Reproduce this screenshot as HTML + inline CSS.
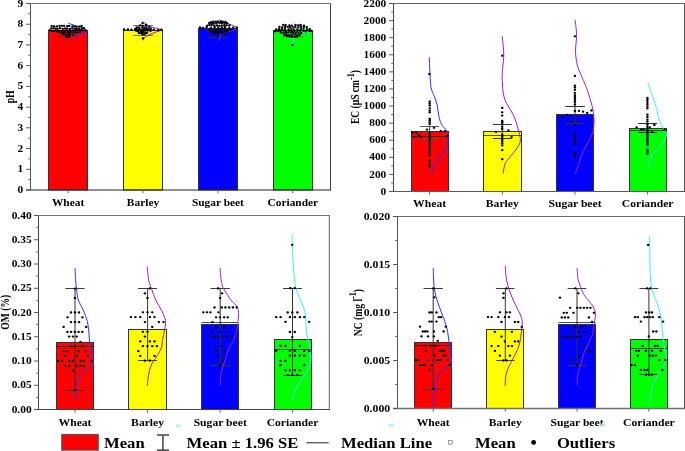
<!DOCTYPE html><html><head><meta charset="utf-8"><style>html,body{margin:0;padding:0;background:#fff;width:685px;height:451px;overflow:hidden}svg{display:block;will-change:transform}</style></head><body><svg width="685" height="451" viewBox="0 0 685 451" font-family="Liberation Serif" font-weight="bold">
<rect width="685" height="451" fill="#ffffff"/>
<rect x="48.5" y="30.5" width="39.00" height="159.50" fill="#ff0000" stroke="#333" stroke-width="1"/>
<rect x="123.5" y="30.5" width="39.00" height="159.50" fill="#ffff00" stroke="#333" stroke-width="1"/>
<rect x="198.5" y="28.5" width="39.00" height="161.50" fill="#0000ff" stroke="#333" stroke-width="1"/>
<rect x="273.5" y="30.5" width="39.00" height="159.50" fill="#00ff00" stroke="#333" stroke-width="1"/>
<line x1="58.25" y1="36.5" x2="77.85" y2="36.5" stroke="#8b1a1a" stroke-width="1"/>
<line x1="133.1" y1="25.5" x2="152.9" y2="25.5" stroke="#777777" stroke-width="1"/>
<line x1="133.1" y1="35.5" x2="152.9" y2="35.5" stroke="#777777" stroke-width="1"/>
<line x1="208.20000000000002" y1="22.5" x2="227.6" y2="22.5" stroke="#333333" stroke-width="1"/>
<line x1="208.20000000000002" y1="37.5" x2="227.6" y2="37.5" stroke="#333333" stroke-width="1"/>
<line x1="283.2" y1="36.5" x2="302.40000000000003" y2="36.5" stroke="#3a7a3a" stroke-width="1"/>
<path d="M68.00,23.00 C68.67,23.25 70.33,23.92 72.00,24.50 C73.67,25.08 76.00,25.78 78.00,26.50 C80.00,27.22 82.45,28.05 84.00,28.80 C85.55,29.55 87.63,30.22 87.30,31.00 C86.97,31.78 84.22,32.75 82.00,33.50 C79.78,34.25 76.00,34.88 74.00,35.50 C72.00,36.12 70.95,36.62 70.00,37.20 C69.05,37.78 68.58,38.70 68.30,39.00" fill="none" stroke="#3030ff" stroke-width="1"/>
<path d="M142.90,21.30 C143.42,21.75 144.82,23.13 146.00,24.00 C147.18,24.87 148.33,25.80 150.00,26.50 C151.67,27.20 154.02,27.65 156.00,28.20 C157.98,28.75 161.90,29.17 161.90,29.80 C161.90,30.43 157.98,31.22 156.00,32.00 C154.02,32.78 151.83,33.67 150.00,34.50 C148.17,35.33 146.17,36.03 145.00,37.00 C143.83,37.97 143.33,39.75 143.00,40.30" fill="none" stroke="#a020b0" stroke-width="1"/>
<path d="M219.00,20.10 C219.67,20.38 221.33,21.15 223.00,21.80 C224.67,22.45 227.17,23.30 229.00,24.00 C230.83,24.70 232.62,25.35 234.00,26.00 C235.38,26.65 237.47,27.15 237.30,27.90 C237.13,28.65 234.88,29.73 233.00,30.50 C231.12,31.27 228.00,31.83 226.00,32.50 C224.00,33.17 222.12,33.67 221.00,34.50 C219.88,35.33 219.63,36.47 219.30,37.50 C218.97,38.53 219.05,40.17 219.00,40.70" fill="none" stroke="#8a2be2" stroke-width="1"/>
<path d="M292.70,22.20 C293.25,22.58 294.62,23.78 296.00,24.50 C297.38,25.22 299.17,25.83 301.00,26.50 C302.83,27.17 305.17,27.83 307.00,28.50 C308.83,29.17 312.17,29.83 312.00,30.50 C311.83,31.17 308.33,31.92 306.00,32.50 C303.67,33.08 300.00,33.33 298.00,34.00 C296.00,34.67 294.85,35.50 294.00,36.50 C293.15,37.50 293.12,38.23 292.90,40.00 C292.68,41.77 292.73,45.92 292.70,47.10" fill="none" stroke="#40ecf4" stroke-width="1"/>
<g fill="#000">
<ellipse cx="51.65" cy="26.12" rx="1.29" ry="1.15"/>
<ellipse cx="54.07" cy="26.45" rx="1.29" ry="1.15"/>
<ellipse cx="56.87" cy="26.34" rx="1.29" ry="1.15"/>
<ellipse cx="59.51" cy="25.86" rx="1.29" ry="1.15"/>
<ellipse cx="61.93" cy="25.84" rx="1.29" ry="1.15"/>
<ellipse cx="64.09" cy="25.87" rx="1.29" ry="1.15"/>
<ellipse cx="67.33" cy="26.22" rx="1.29" ry="1.15"/>
<ellipse cx="69.22" cy="25.92" rx="1.29" ry="1.15"/>
<ellipse cx="72.45" cy="26.43" rx="1.29" ry="1.15"/>
<ellipse cx="74.4" cy="26.38" rx="1.29" ry="1.15"/>
<ellipse cx="76.55" cy="26.78" rx="1.29" ry="1.15"/>
<ellipse cx="79.29" cy="26.66" rx="1.29" ry="1.15"/>
<ellipse cx="81.62" cy="25.94" rx="1.29" ry="1.15"/>
<ellipse cx="51.32" cy="28.41" rx="1.29" ry="1.15"/>
<ellipse cx="53.44" cy="28.28" rx="1.29" ry="1.15"/>
<ellipse cx="55.59" cy="28.74" rx="1.29" ry="1.15"/>
<ellipse cx="57.63" cy="28.65" rx="1.29" ry="1.15"/>
<ellipse cx="60.13" cy="28.16" rx="1.29" ry="1.15"/>
<ellipse cx="62.71" cy="28.78" rx="1.29" ry="1.15"/>
<ellipse cx="65.23" cy="28.41" rx="1.29" ry="1.15"/>
<ellipse cx="67.3" cy="28.55" rx="1.29" ry="1.15"/>
<ellipse cx="70.06" cy="28.89" rx="1.29" ry="1.15"/>
<ellipse cx="72.29" cy="28.34" rx="1.29" ry="1.15"/>
<ellipse cx="74.95" cy="28.63" rx="1.29" ry="1.15"/>
<ellipse cx="76.72" cy="28.83" rx="1.29" ry="1.15"/>
<ellipse cx="78.9" cy="29.08" rx="1.29" ry="1.15"/>
<ellipse cx="81.9" cy="28.52" rx="1.29" ry="1.15"/>
<ellipse cx="83.99" cy="28.25" rx="1.29" ry="1.15"/>
<ellipse cx="49.67" cy="30.14" rx="1.29" ry="1.15"/>
<ellipse cx="51.94" cy="30.86" rx="1.29" ry="1.15"/>
<ellipse cx="54.05" cy="30.98" rx="1.29" ry="1.15"/>
<ellipse cx="56.69" cy="30.8" rx="1.29" ry="1.15"/>
<ellipse cx="58.92" cy="30.68" rx="1.29" ry="1.15"/>
<ellipse cx="61.78" cy="30.94" rx="1.29" ry="1.15"/>
<ellipse cx="63.86" cy="30.57" rx="1.29" ry="1.15"/>
<ellipse cx="66.27" cy="30.16" rx="1.29" ry="1.15"/>
<ellipse cx="68.93" cy="30.75" rx="1.29" ry="1.15"/>
<ellipse cx="70.58" cy="30.92" rx="1.29" ry="1.15"/>
<ellipse cx="73.34" cy="30.49" rx="1.29" ry="1.15"/>
<ellipse cx="75.5" cy="30.12" rx="1.29" ry="1.15"/>
<ellipse cx="77.52" cy="30.27" rx="1.29" ry="1.15"/>
<ellipse cx="80.53" cy="30.16" rx="1.29" ry="1.15"/>
<ellipse cx="82.38" cy="30.23" rx="1.29" ry="1.15"/>
<ellipse cx="85.37" cy="30.49" rx="1.29" ry="1.15"/>
<ellipse cx="57.95" cy="32.18" rx="1.29" ry="1.15"/>
<ellipse cx="60.83" cy="32.65" rx="1.29" ry="1.15"/>
<ellipse cx="63.25" cy="32.92" rx="1.29" ry="1.15"/>
<ellipse cx="65.25" cy="32.38" rx="1.29" ry="1.15"/>
<ellipse cx="68.16" cy="32.46" rx="1.29" ry="1.15"/>
<ellipse cx="69.87" cy="33.06" rx="1.29" ry="1.15"/>
<ellipse cx="72.4" cy="32.28" rx="1.29" ry="1.15"/>
<ellipse cx="75.1" cy="32.33" rx="1.29" ry="1.15"/>
<ellipse cx="77.32" cy="32.69" rx="1.29" ry="1.15"/>
<ellipse cx="79.92" cy="32.1" rx="1.29" ry="1.15"/>
<ellipse cx="63.07" cy="34.17" rx="1.29" ry="1.15"/>
<ellipse cx="65.69" cy="34.75" rx="1.29" ry="1.15"/>
<ellipse cx="68.12" cy="34.32" rx="1.29" ry="1.15"/>
<ellipse cx="70.05" cy="34.48" rx="1.29" ry="1.15"/>
<ellipse cx="73.28" cy="34.7" rx="1.29" ry="1.15"/>
<ellipse cx="66.3" cy="36.57" rx="1.29" ry="1.15"/>
<ellipse cx="68.9" cy="36.09" rx="1.29" ry="1.15"/>
<ellipse cx="68.13" cy="37.2" rx="1.29" ry="1.15"/>
<ellipse cx="124.07" cy="29.36" rx="1.29" ry="1.15"/>
<ellipse cx="127.86" cy="29.51" rx="1.29" ry="1.15"/>
<ellipse cx="131.45" cy="29.64" rx="1.29" ry="1.15"/>
<ellipse cx="135.25" cy="29.3" rx="1.29" ry="1.15"/>
<ellipse cx="139.16" cy="29.4" rx="1.29" ry="1.15"/>
<ellipse cx="143.37" cy="29.33" rx="1.29" ry="1.15"/>
<ellipse cx="146.35" cy="29.91" rx="1.29" ry="1.15"/>
<ellipse cx="150.25" cy="29.55" rx="1.29" ry="1.15"/>
<ellipse cx="153.72" cy="29.66" rx="1.29" ry="1.15"/>
<ellipse cx="158.29" cy="30.15" rx="1.29" ry="1.15"/>
<ellipse cx="161.48" cy="29.77" rx="1.29" ry="1.15"/>
<ellipse cx="142.6" cy="23.19" rx="1.29" ry="1.15"/>
<ellipse cx="140.26" cy="25.34" rx="1.29" ry="1.15"/>
<ellipse cx="142.66" cy="25.83" rx="1.29" ry="1.15"/>
<ellipse cx="145.95" cy="25.02" rx="1.29" ry="1.15"/>
<ellipse cx="136.65" cy="27.33" rx="1.29" ry="1.15"/>
<ellipse cx="138.93" cy="27.34" rx="1.29" ry="1.15"/>
<ellipse cx="142.28" cy="27.33" rx="1.29" ry="1.15"/>
<ellipse cx="144.4" cy="27.66" rx="1.29" ry="1.15"/>
<ellipse cx="146.47" cy="27.06" rx="1.29" ry="1.15"/>
<ellipse cx="149.27" cy="26.97" rx="1.29" ry="1.15"/>
<ellipse cx="135.28" cy="29.23" rx="1.29" ry="1.15"/>
<ellipse cx="137.01" cy="29.03" rx="1.29" ry="1.15"/>
<ellipse cx="140.06" cy="29.51" rx="1.29" ry="1.15"/>
<ellipse cx="142.16" cy="29.55" rx="1.29" ry="1.15"/>
<ellipse cx="144.38" cy="29.52" rx="1.29" ry="1.15"/>
<ellipse cx="146.45" cy="28.93" rx="1.29" ry="1.15"/>
<ellipse cx="148.24" cy="29.06" rx="1.29" ry="1.15"/>
<ellipse cx="150.78" cy="28.73" rx="1.29" ry="1.15"/>
<ellipse cx="136.19" cy="30.76" rx="1.29" ry="1.15"/>
<ellipse cx="138.28" cy="31.46" rx="1.29" ry="1.15"/>
<ellipse cx="141.15" cy="31.44" rx="1.29" ry="1.15"/>
<ellipse cx="142.86" cy="31.46" rx="1.29" ry="1.15"/>
<ellipse cx="145.06" cy="30.72" rx="1.29" ry="1.15"/>
<ellipse cx="147.37" cy="30.7" rx="1.29" ry="1.15"/>
<ellipse cx="150.4" cy="31.12" rx="1.29" ry="1.15"/>
<ellipse cx="138.98" cy="33.14" rx="1.29" ry="1.15"/>
<ellipse cx="141.3" cy="32.95" rx="1.29" ry="1.15"/>
<ellipse cx="143.16" cy="32.38" rx="1.29" ry="1.15"/>
<ellipse cx="145.28" cy="33.21" rx="1.29" ry="1.15"/>
<ellipse cx="146.98" cy="33.05" rx="1.29" ry="1.15"/>
<ellipse cx="142.29" cy="34.28" rx="1.29" ry="1.15"/>
<ellipse cx="144.3" cy="34.43" rx="1.29" ry="1.15"/>
<ellipse cx="142.9" cy="38.47" rx="1.29" ry="1.15"/>
<ellipse cx="199.95" cy="27.5" rx="1.29" ry="1.15"/>
<ellipse cx="202.87" cy="27.82" rx="1.29" ry="1.15"/>
<ellipse cx="206.55" cy="27.23" rx="1.29" ry="1.15"/>
<ellipse cx="210.91" cy="28.0" rx="1.29" ry="1.15"/>
<ellipse cx="214.63" cy="27.25" rx="1.29" ry="1.15"/>
<ellipse cx="218.16" cy="28.08" rx="1.29" ry="1.15"/>
<ellipse cx="221.75" cy="27.45" rx="1.29" ry="1.15"/>
<ellipse cx="224.91" cy="27.23" rx="1.29" ry="1.15"/>
<ellipse cx="229.25" cy="28.07" rx="1.29" ry="1.15"/>
<ellipse cx="233.23" cy="27.63" rx="1.29" ry="1.15"/>
<ellipse cx="236.87" cy="27.53" rx="1.29" ry="1.15"/>
<ellipse cx="210.71" cy="22.13" rx="1.29" ry="1.15"/>
<ellipse cx="213.13" cy="21.55" rx="1.29" ry="1.15"/>
<ellipse cx="215.75" cy="21.54" rx="1.29" ry="1.15"/>
<ellipse cx="217.92" cy="21.56" rx="1.29" ry="1.15"/>
<ellipse cx="220.74" cy="21.43" rx="1.29" ry="1.15"/>
<ellipse cx="222.62" cy="21.65" rx="1.29" ry="1.15"/>
<ellipse cx="225.4" cy="21.88" rx="1.29" ry="1.15"/>
<ellipse cx="209.42" cy="23.52" rx="1.29" ry="1.15"/>
<ellipse cx="211.6" cy="23.6" rx="1.29" ry="1.15"/>
<ellipse cx="213.66" cy="23.62" rx="1.29" ry="1.15"/>
<ellipse cx="216.4" cy="23.54" rx="1.29" ry="1.15"/>
<ellipse cx="219.58" cy="23.1" rx="1.29" ry="1.15"/>
<ellipse cx="221.83" cy="23.27" rx="1.29" ry="1.15"/>
<ellipse cx="224.49" cy="23.83" rx="1.29" ry="1.15"/>
<ellipse cx="227.02" cy="23.43" rx="1.29" ry="1.15"/>
<ellipse cx="207.28" cy="25.56" rx="1.29" ry="1.15"/>
<ellipse cx="209.5" cy="25.11" rx="1.29" ry="1.15"/>
<ellipse cx="211.67" cy="25.25" rx="1.29" ry="1.15"/>
<ellipse cx="214.34" cy="25.77" rx="1.29" ry="1.15"/>
<ellipse cx="217.04" cy="25.56" rx="1.29" ry="1.15"/>
<ellipse cx="219.17" cy="25.91" rx="1.29" ry="1.15"/>
<ellipse cx="221.67" cy="25.61" rx="1.29" ry="1.15"/>
<ellipse cx="224.3" cy="25.51" rx="1.29" ry="1.15"/>
<ellipse cx="226.59" cy="25.45" rx="1.29" ry="1.15"/>
<ellipse cx="229.44" cy="25.48" rx="1.29" ry="1.15"/>
<ellipse cx="209.38" cy="30.0" rx="1.29" ry="1.15"/>
<ellipse cx="211.32" cy="30.24" rx="1.29" ry="1.15"/>
<ellipse cx="214.55" cy="29.86" rx="1.29" ry="1.15"/>
<ellipse cx="216.3" cy="30.14" rx="1.29" ry="1.15"/>
<ellipse cx="219.16" cy="29.42" rx="1.29" ry="1.15"/>
<ellipse cx="221.52" cy="29.37" rx="1.29" ry="1.15"/>
<ellipse cx="224.5" cy="29.37" rx="1.29" ry="1.15"/>
<ellipse cx="227.29" cy="30.08" rx="1.29" ry="1.15"/>
<ellipse cx="229.66" cy="29.45" rx="1.29" ry="1.15"/>
<ellipse cx="231.64" cy="29.96" rx="1.29" ry="1.15"/>
<ellipse cx="210.47" cy="32.18" rx="1.29" ry="1.15"/>
<ellipse cx="213.02" cy="31.52" rx="1.29" ry="1.15"/>
<ellipse cx="215.13" cy="31.7" rx="1.29" ry="1.15"/>
<ellipse cx="218.05" cy="32.29" rx="1.29" ry="1.15"/>
<ellipse cx="220.22" cy="31.46" rx="1.29" ry="1.15"/>
<ellipse cx="222.7" cy="31.82" rx="1.29" ry="1.15"/>
<ellipse cx="225.25" cy="31.5" rx="1.29" ry="1.15"/>
<ellipse cx="227.52" cy="32.02" rx="1.29" ry="1.15"/>
<ellipse cx="213.94" cy="33.65" rx="1.29" ry="1.15"/>
<ellipse cx="216.33" cy="33.12" rx="1.29" ry="1.15"/>
<ellipse cx="219.01" cy="33.72" rx="1.29" ry="1.15"/>
<ellipse cx="221.99" cy="33.16" rx="1.29" ry="1.15"/>
<ellipse cx="224.47" cy="33.89" rx="1.29" ry="1.15"/>
<ellipse cx="217.77" cy="36.9" rx="1.29" ry="1.15"/>
<ellipse cx="283.28" cy="24.94" rx="1.29" ry="1.15"/>
<ellipse cx="285.63" cy="25.17" rx="1.29" ry="1.15"/>
<ellipse cx="289.41" cy="25.32" rx="1.29" ry="1.15"/>
<ellipse cx="291.76" cy="25.72" rx="1.29" ry="1.15"/>
<ellipse cx="295.42" cy="25.05" rx="1.29" ry="1.15"/>
<ellipse cx="298.2" cy="25.47" rx="1.29" ry="1.15"/>
<ellipse cx="300.56" cy="24.99" rx="1.29" ry="1.15"/>
<ellipse cx="303.93" cy="25.59" rx="1.29" ry="1.15"/>
<ellipse cx="279.44" cy="26.87" rx="1.29" ry="1.15"/>
<ellipse cx="282.1" cy="27.43" rx="1.29" ry="1.15"/>
<ellipse cx="284.96" cy="26.88" rx="1.29" ry="1.15"/>
<ellipse cx="287.76" cy="26.87" rx="1.29" ry="1.15"/>
<ellipse cx="290.04" cy="27.25" rx="1.29" ry="1.15"/>
<ellipse cx="293.43" cy="27.35" rx="1.29" ry="1.15"/>
<ellipse cx="295.43" cy="27.07" rx="1.29" ry="1.15"/>
<ellipse cx="298.34" cy="27.33" rx="1.29" ry="1.15"/>
<ellipse cx="301.06" cy="26.91" rx="1.29" ry="1.15"/>
<ellipse cx="303.9" cy="26.85" rx="1.29" ry="1.15"/>
<ellipse cx="306.81" cy="27.11" rx="1.29" ry="1.15"/>
<ellipse cx="276.29" cy="29.46" rx="1.29" ry="1.15"/>
<ellipse cx="279.18" cy="29.2" rx="1.29" ry="1.15"/>
<ellipse cx="282.02" cy="29.05" rx="1.29" ry="1.15"/>
<ellipse cx="285.02" cy="28.95" rx="1.29" ry="1.15"/>
<ellipse cx="288.55" cy="29.43" rx="1.29" ry="1.15"/>
<ellipse cx="291.47" cy="28.89" rx="1.29" ry="1.15"/>
<ellipse cx="294.11" cy="29.63" rx="1.29" ry="1.15"/>
<ellipse cx="297.43" cy="29.52" rx="1.29" ry="1.15"/>
<ellipse cx="300.83" cy="29.2" rx="1.29" ry="1.15"/>
<ellipse cx="303.51" cy="29.09" rx="1.29" ry="1.15"/>
<ellipse cx="306.98" cy="29.39" rx="1.29" ry="1.15"/>
<ellipse cx="309.83" cy="29.04" rx="1.29" ry="1.15"/>
<ellipse cx="275.14" cy="31.31" rx="1.29" ry="1.15"/>
<ellipse cx="277.66" cy="31.0" rx="1.29" ry="1.15"/>
<ellipse cx="280.25" cy="30.65" rx="1.29" ry="1.15"/>
<ellipse cx="283.66" cy="30.67" rx="1.29" ry="1.15"/>
<ellipse cx="285.89" cy="30.86" rx="1.29" ry="1.15"/>
<ellipse cx="289.38" cy="30.68" rx="1.29" ry="1.15"/>
<ellipse cx="292.02" cy="31.47" rx="1.29" ry="1.15"/>
<ellipse cx="294.4" cy="30.88" rx="1.29" ry="1.15"/>
<ellipse cx="297.42" cy="30.89" rx="1.29" ry="1.15"/>
<ellipse cx="300.22" cy="30.76" rx="1.29" ry="1.15"/>
<ellipse cx="303.54" cy="30.86" rx="1.29" ry="1.15"/>
<ellipse cx="305.93" cy="31.57" rx="1.29" ry="1.15"/>
<ellipse cx="309.16" cy="30.84" rx="1.29" ry="1.15"/>
<ellipse cx="311.36" cy="30.91" rx="1.29" ry="1.15"/>
<ellipse cx="280.88" cy="32.5" rx="1.29" ry="1.15"/>
<ellipse cx="283.5" cy="32.97" rx="1.29" ry="1.15"/>
<ellipse cx="286.0" cy="32.7" rx="1.29" ry="1.15"/>
<ellipse cx="288.26" cy="32.5" rx="1.29" ry="1.15"/>
<ellipse cx="290.9" cy="32.59" rx="1.29" ry="1.15"/>
<ellipse cx="293.02" cy="32.54" rx="1.29" ry="1.15"/>
<ellipse cx="295.73" cy="32.8" rx="1.29" ry="1.15"/>
<ellipse cx="298.53" cy="33.09" rx="1.29" ry="1.15"/>
<ellipse cx="301.16" cy="33.25" rx="1.29" ry="1.15"/>
<ellipse cx="284.38" cy="35.02" rx="1.29" ry="1.15"/>
<ellipse cx="286.33" cy="34.69" rx="1.29" ry="1.15"/>
<ellipse cx="288.65" cy="35.28" rx="1.29" ry="1.15"/>
<ellipse cx="291.64" cy="35.02" rx="1.29" ry="1.15"/>
<ellipse cx="294.34" cy="34.34" rx="1.29" ry="1.15"/>
<ellipse cx="296.63" cy="35.19" rx="1.29" ry="1.15"/>
<ellipse cx="299.31" cy="35.03" rx="1.29" ry="1.15"/>
<ellipse cx="287.02" cy="36.24" rx="1.29" ry="1.15"/>
<ellipse cx="289.83" cy="36.6" rx="1.29" ry="1.15"/>
<ellipse cx="292.33" cy="36.9" rx="1.29" ry="1.15"/>
<ellipse cx="294.89" cy="36.68" rx="1.29" ry="1.15"/>
<ellipse cx="297.19" cy="36.78" rx="1.29" ry="1.15"/>
<ellipse cx="292.23" cy="45.03" rx="1.29" ry="1.15"/>
</g>
<line x1="30.5" y1="3.5" x2="30.5" y2="190" stroke="#555" stroke-width="1"/>
<line x1="330.5" y1="3.5" x2="330.5" y2="190" stroke="#444" stroke-width="1"/>
<line x1="26.2" y1="3.5" x2="331.0" y2="3.5" stroke="#777" stroke-width="1.2"/>
<line x1="26.2" y1="190" x2="331.0" y2="190" stroke="#222" stroke-width="1"/>
<line x1="26.2" y1="190.0" x2="30.5" y2="190.0" stroke="#555" stroke-width="1"/>
<text transform="translate(23.3,193.1) scale(1.14,1)" font-size="10" text-anchor="end">0</text>
<line x1="26.2" y1="169.27777777777777" x2="30.5" y2="169.27777777777777" stroke="#555" stroke-width="1"/>
<text transform="translate(23.3,172.37777777777777) scale(1.14,1)" font-size="10" text-anchor="end">1</text>
<line x1="26.2" y1="148.55555555555554" x2="30.5" y2="148.55555555555554" stroke="#555" stroke-width="1"/>
<text transform="translate(23.3,151.65555555555554) scale(1.14,1)" font-size="10" text-anchor="end">2</text>
<line x1="26.2" y1="127.83333333333334" x2="30.5" y2="127.83333333333334" stroke="#555" stroke-width="1"/>
<text transform="translate(23.3,130.93333333333334) scale(1.14,1)" font-size="10" text-anchor="end">3</text>
<line x1="26.2" y1="107.11111111111111" x2="30.5" y2="107.11111111111111" stroke="#555" stroke-width="1"/>
<text transform="translate(23.3,110.21111111111111) scale(1.14,1)" font-size="10" text-anchor="end">4</text>
<line x1="26.2" y1="86.38888888888889" x2="30.5" y2="86.38888888888889" stroke="#555" stroke-width="1"/>
<text transform="translate(23.3,89.48888888888888) scale(1.14,1)" font-size="10" text-anchor="end">5</text>
<line x1="26.2" y1="65.66666666666667" x2="30.5" y2="65.66666666666667" stroke="#555" stroke-width="1"/>
<text transform="translate(23.3,68.76666666666667) scale(1.14,1)" font-size="10" text-anchor="end">6</text>
<line x1="26.2" y1="44.94444444444446" x2="30.5" y2="44.94444444444446" stroke="#555" stroke-width="1"/>
<text transform="translate(23.3,48.04444444444446) scale(1.14,1)" font-size="10" text-anchor="end">7</text>
<line x1="26.2" y1="24.22222222222223" x2="30.5" y2="24.22222222222223" stroke="#555" stroke-width="1"/>
<text transform="translate(23.3,27.32222222222223) scale(1.14,1)" font-size="10" text-anchor="end">8</text>
<line x1="26.2" y1="3.5" x2="30.5" y2="3.5" stroke="#555" stroke-width="1"/>
<text transform="translate(23.3,6.6) scale(1.14,1)" font-size="10" text-anchor="end">9</text>
<line x1="28.2" y1="179.63888888888889" x2="30.5" y2="179.63888888888889" stroke="#666" stroke-width="1"/>
<line x1="28.2" y1="158.91666666666666" x2="30.5" y2="158.91666666666666" stroke="#666" stroke-width="1"/>
<line x1="28.2" y1="138.19444444444446" x2="30.5" y2="138.19444444444446" stroke="#666" stroke-width="1"/>
<line x1="28.2" y1="117.47222222222223" x2="30.5" y2="117.47222222222223" stroke="#666" stroke-width="1"/>
<line x1="28.2" y1="96.75" x2="30.5" y2="96.75" stroke="#666" stroke-width="1"/>
<line x1="28.2" y1="76.02777777777777" x2="30.5" y2="76.02777777777777" stroke="#666" stroke-width="1"/>
<line x1="28.2" y1="55.30555555555554" x2="30.5" y2="55.30555555555554" stroke="#666" stroke-width="1"/>
<line x1="28.2" y1="34.58333333333334" x2="30.5" y2="34.58333333333334" stroke="#666" stroke-width="1"/>
<line x1="28.2" y1="13.861111111111114" x2="30.5" y2="13.861111111111114" stroke="#666" stroke-width="1"/>
<line x1="68.05" y1="190" x2="68.05" y2="193.2" stroke="#666" stroke-width="1"/>
<text transform="translate(68.05,205.8) scale(1.2,1)" font-size="9.5" text-anchor="middle">Wheat</text>
<line x1="143" y1="190" x2="143" y2="193.2" stroke="#666" stroke-width="1"/>
<text transform="translate(143,205.8) scale(1.2,1)" font-size="9.5" text-anchor="middle">Barley</text>
<line x1="217.9" y1="190" x2="217.9" y2="193.2" stroke="#666" stroke-width="1"/>
<text transform="translate(217.9,205.8) scale(1.2,1)" font-size="9.5" text-anchor="middle">Sugar beet</text>
<line x1="292.8" y1="190" x2="292.8" y2="193.2" stroke="#666" stroke-width="1"/>
<text transform="translate(292.8,205.8) scale(1.2,1)" font-size="9.5" text-anchor="middle">Coriander</text>
<rect x="411.5" y="131.5" width="37.00" height="60.00" fill="#ff0000" stroke="#333" stroke-width="1"/>
<rect x="483.5" y="131.5" width="38.00" height="60.00" fill="#ffff00" stroke="#333" stroke-width="1"/>
<rect x="556.5" y="114.5" width="37.00" height="77.00" fill="#0000ff" stroke="#333" stroke-width="1"/>
<rect x="629.5" y="128.5" width="37.00" height="63.00" fill="#00ff00" stroke="#333" stroke-width="1"/>
<line x1="429.6" y1="126.3" x2="429.6" y2="138.2" stroke="#333" stroke-width="1"/>
<line x1="502.3" y1="124.2" x2="502.3" y2="138.2" stroke="#333" stroke-width="1"/>
<line x1="575" y1="106.5" x2="575" y2="123.2" stroke="#333" stroke-width="1"/>
<line x1="647.6" y1="123.1" x2="647.6" y2="132.3" stroke="#333" stroke-width="1"/>
<line x1="411.5" y1="136.5" x2="448.5" y2="136.5" stroke="#000" stroke-opacity="0.7" stroke-width="1"/>
<line x1="483.5" y1="135.5" x2="521.5" y2="135.5" stroke="#000" stroke-opacity="0.7" stroke-width="1"/>
<line x1="629.5" y1="130.5" x2="666.5" y2="130.5" stroke="#000" stroke-opacity="0.7" stroke-width="1"/>
<line x1="420.3" y1="126.5" x2="438.90000000000003" y2="126.5" stroke="#555" stroke-width="1"/>
<line x1="420.3" y1="138.5" x2="438.90000000000003" y2="138.5" stroke="#555" stroke-width="1"/>
<line x1="492.90000000000003" y1="124.5" x2="511.7" y2="124.5" stroke="#333" stroke-width="1"/>
<line x1="492.90000000000003" y1="138.5" x2="511.7" y2="138.5" stroke="#333" stroke-width="1"/>
<line x1="565.2" y1="106.5" x2="584.8" y2="106.5" stroke="#333" stroke-width="1"/>
<line x1="565.2" y1="123.5" x2="584.8" y2="123.5" stroke="#333" stroke-width="1"/>
<line x1="638.1" y1="123.5" x2="657.1" y2="123.5" stroke="#333" stroke-width="1"/>
<line x1="638.1" y1="132.5" x2="657.1" y2="132.5" stroke="#333" stroke-width="1"/>
<path d="M429.30,57.10 C429.35,58.58 429.48,63.12 429.60,66.00 C429.72,68.88 429.75,70.77 430.00,74.40 C430.25,78.03 430.37,84.08 431.10,87.80 C431.83,91.52 433.37,93.73 434.40,96.70 C435.43,99.67 436.55,102.27 437.30,105.60 C438.05,108.93 438.08,113.37 438.90,116.70 C439.72,120.03 440.72,123.02 442.20,125.60 C443.68,128.18 446.98,129.25 447.80,132.20 C448.62,135.15 447.60,140.37 447.10,143.30 C446.60,146.23 446.15,147.35 444.80,149.80 C443.45,152.25 440.65,155.35 439.00,158.00 C437.35,160.65 436.25,163.08 434.90,165.70 C433.55,168.32 431.57,172.37 430.90,173.70" fill="none" stroke="#3030ff" stroke-width="1"/>
<path d="M502.20,36.20 C502.37,37.83 502.93,42.77 503.20,46.00 C503.47,49.23 503.83,52.43 503.80,55.60 C503.77,58.77 503.27,61.87 503.00,65.00 C502.73,68.13 502.30,71.23 502.20,74.40 C502.10,77.57 502.23,81.03 502.40,84.00 C502.57,86.97 502.77,89.53 503.20,92.20 C503.63,94.87 504.07,97.50 505.00,100.00 C505.93,102.50 507.45,104.80 508.80,107.20 C510.15,109.60 511.90,112.00 513.10,114.40 C514.30,116.80 515.17,119.18 516.00,121.60 C516.83,124.02 517.50,126.73 518.10,128.90 C518.70,131.07 519.23,132.58 519.60,134.60 C519.97,136.62 520.67,138.83 520.30,141.00 C519.93,143.17 519.20,144.82 517.40,147.60 C515.60,150.38 511.53,155.05 509.50,157.70 C507.47,160.35 506.28,160.87 505.20,163.50 C504.12,166.13 503.37,171.83 503.00,173.50" fill="none" stroke="#a020b0" stroke-width="1"/>
<path d="M575.00,20.00 C575.22,21.67 576.05,27.00 576.30,30.00 C576.55,33.00 576.62,35.00 576.50,38.00 C576.38,41.00 575.72,45.00 575.60,48.00 C575.48,51.00 575.48,53.00 575.80,56.00 C576.12,59.00 576.63,62.83 577.50,66.00 C578.37,69.17 579.83,72.17 581.00,75.00 C582.17,77.83 583.18,79.67 584.50,83.00 C585.82,86.33 587.38,89.87 588.90,95.00 C590.42,100.13 592.97,107.52 593.60,113.80 C594.23,120.08 594.43,126.42 592.70,132.70 C590.97,138.98 586.10,144.62 583.20,151.50 C580.30,158.38 576.62,170.25 575.30,174.00" fill="none" stroke="#8a2be2" stroke-width="1"/>
<path d="M647.70,82.80 C648.45,84.83 650.72,90.75 652.20,95.00 C653.68,99.25 655.50,104.25 656.60,108.30 C657.70,112.35 657.68,115.98 658.80,119.30 C659.92,122.62 662.00,125.60 663.30,128.20 C664.60,130.80 666.98,131.93 666.60,134.90 C666.22,137.87 663.40,142.68 661.00,146.00 C658.60,149.32 654.42,151.12 652.20,154.80 C649.98,158.48 648.45,165.88 647.70,168.10" fill="none" stroke="#40ecf4" stroke-width="1"/>
<g fill="#000">
<ellipse cx="429.4" cy="74.2" rx="1.29" ry="1.15"/>
<ellipse cx="429.7" cy="101.7" rx="1.29" ry="1.15"/>
<ellipse cx="429.7" cy="103.6" rx="1.29" ry="1.15"/>
<ellipse cx="429.7" cy="105.5" rx="1.29" ry="1.15"/>
<ellipse cx="429.7" cy="108.3" rx="1.29" ry="1.15"/>
<ellipse cx="429.7" cy="110.6" rx="1.29" ry="1.15"/>
<ellipse cx="429.7" cy="112.3" rx="1.29" ry="1.15"/>
<ellipse cx="429.7" cy="118.9" rx="1.29" ry="1.15"/>
<ellipse cx="429.7" cy="120.7" rx="1.29" ry="1.15"/>
<ellipse cx="429.7" cy="122.5" rx="1.29" ry="1.15"/>
<ellipse cx="429.7" cy="124.3" rx="1.29" ry="1.15"/>
<ellipse cx="429.7" cy="133.0" rx="1.29" ry="1.15"/>
<ellipse cx="429.7" cy="134.85" rx="1.29" ry="1.15"/>
<ellipse cx="429.7" cy="136.7" rx="1.29" ry="1.15"/>
<ellipse cx="429.7" cy="138.55" rx="1.29" ry="1.15"/>
<ellipse cx="429.7" cy="140.4" rx="1.29" ry="1.15"/>
<ellipse cx="429.7" cy="142.25" rx="1.29" ry="1.15"/>
<ellipse cx="429.7" cy="144.1" rx="1.29" ry="1.15"/>
<ellipse cx="429.7" cy="145.95" rx="1.29" ry="1.15"/>
<ellipse cx="429.7" cy="147.8" rx="1.29" ry="1.15"/>
<ellipse cx="429.7" cy="149.65" rx="1.29" ry="1.15"/>
<ellipse cx="429.7" cy="151.5" rx="1.29" ry="1.15"/>
<ellipse cx="429.7" cy="153.35" rx="1.29" ry="1.15"/>
<ellipse cx="429.7" cy="155.2" rx="1.29" ry="1.15"/>
<ellipse cx="429.7" cy="160.5" rx="1.29" ry="1.15"/>
<ellipse cx="429.7" cy="162.3" rx="1.29" ry="1.15"/>
<ellipse cx="429.7" cy="164.9" rx="1.29" ry="1.15"/>
<ellipse cx="429.7" cy="166.7" rx="1.29" ry="1.15"/>
<ellipse cx="434" cy="127.8" rx="1.29" ry="1.15"/>
<ellipse cx="427" cy="129.6" rx="1.29" ry="1.15"/>
<ellipse cx="440.8" cy="131.2" rx="1.29" ry="1.15"/>
<ellipse cx="444.9" cy="131.2" rx="1.29" ry="1.15"/>
<ellipse cx="412.2" cy="132.6" rx="1.29" ry="1.15"/>
<ellipse cx="416.3" cy="132.6" rx="1.29" ry="1.15"/>
<ellipse cx="418.6" cy="135" rx="1.29" ry="1.15"/>
<ellipse cx="414.1" cy="137" rx="1.29" ry="1.15"/>
<ellipse cx="420.8" cy="137" rx="1.29" ry="1.15"/>
<ellipse cx="447.2" cy="136" rx="1.29" ry="1.15"/>
<ellipse cx="502.3" cy="55.7" rx="1.29" ry="1.15"/>
<ellipse cx="502.2" cy="107.9" rx="1.29" ry="1.15"/>
<ellipse cx="502.2" cy="112.3" rx="1.29" ry="1.15"/>
<ellipse cx="502.2" cy="115.6" rx="1.29" ry="1.15"/>
<ellipse cx="502.2" cy="120.9" rx="1.29" ry="1.15"/>
<ellipse cx="502.2" cy="122.0" rx="1.29" ry="1.15"/>
<ellipse cx="502.2" cy="123.1" rx="1.29" ry="1.15"/>
<ellipse cx="502.2" cy="126.7" rx="1.29" ry="1.15"/>
<ellipse cx="502.2" cy="129.0" rx="1.29" ry="1.15"/>
<ellipse cx="502.2" cy="134.6" rx="1.29" ry="1.15"/>
<ellipse cx="502.2" cy="136.4" rx="1.29" ry="1.15"/>
<ellipse cx="502.2" cy="138.2" rx="1.29" ry="1.15"/>
<ellipse cx="502.2" cy="140.0" rx="1.29" ry="1.15"/>
<ellipse cx="502.2" cy="141.8" rx="1.29" ry="1.15"/>
<ellipse cx="502.2" cy="143.6" rx="1.29" ry="1.15"/>
<ellipse cx="502.2" cy="145.4" rx="1.29" ry="1.15"/>
<ellipse cx="502.2" cy="150.2" rx="1.29" ry="1.15"/>
<ellipse cx="502.2" cy="159.2" rx="1.29" ry="1.15"/>
<ellipse cx="496.1" cy="132" rx="1.29" ry="1.15"/>
<ellipse cx="508.4" cy="130.3" rx="1.29" ry="1.15"/>
<ellipse cx="511.6" cy="137.2" rx="1.29" ry="1.15"/>
<ellipse cx="574.9" cy="36.3" rx="1.29" ry="1.15"/>
<ellipse cx="574.9" cy="75.9" rx="1.29" ry="1.15"/>
<ellipse cx="574.9" cy="85.7" rx="1.29" ry="1.15"/>
<ellipse cx="574.9" cy="87.5" rx="1.29" ry="1.15"/>
<ellipse cx="574.9" cy="89.8" rx="1.29" ry="1.15"/>
<ellipse cx="574.9" cy="92.8" rx="1.29" ry="1.15"/>
<ellipse cx="574.9" cy="95.1" rx="1.29" ry="1.15"/>
<ellipse cx="574.9" cy="97" rx="1.29" ry="1.15"/>
<ellipse cx="574.9" cy="98.9" rx="1.29" ry="1.15"/>
<ellipse cx="574.9" cy="100.8" rx="1.29" ry="1.15"/>
<ellipse cx="574.9" cy="102.6" rx="1.29" ry="1.15"/>
<ellipse cx="574.9" cy="104.7" rx="1.29" ry="1.15"/>
<ellipse cx="574.9" cy="110.9" rx="1.29" ry="1.15"/>
<ellipse cx="574.9" cy="124.9" rx="1.29" ry="1.15"/>
<ellipse cx="574.9" cy="133.8" rx="1.29" ry="1.15"/>
<ellipse cx="574.9" cy="135.7" rx="1.29" ry="1.15"/>
<ellipse cx="574.9" cy="137.5" rx="1.29" ry="1.15"/>
<ellipse cx="574.9" cy="140.4" rx="1.29" ry="1.15"/>
<ellipse cx="574.9" cy="142.3" rx="1.29" ry="1.15"/>
<ellipse cx="574.9" cy="144.2" rx="1.29" ry="1.15"/>
<ellipse cx="574.9" cy="152.6" rx="1.29" ry="1.15"/>
<ellipse cx="574.9" cy="154.5" rx="1.29" ry="1.15"/>
<ellipse cx="574.9" cy="157.4" rx="1.29" ry="1.15"/>
<ellipse cx="579" cy="110.9" rx="1.29" ry="1.15"/>
<ellipse cx="583.1" cy="111.7" rx="1.29" ry="1.15"/>
<ellipse cx="587.2" cy="113" rx="1.29" ry="1.15"/>
<ellipse cx="591.4" cy="110.5" rx="1.29" ry="1.15"/>
<ellipse cx="566.8" cy="114.8" rx="1.29" ry="1.15"/>
<ellipse cx="562.7" cy="117.1" rx="1.29" ry="1.15"/>
<ellipse cx="570.9" cy="121.8" rx="1.29" ry="1.15"/>
<ellipse cx="647.4" cy="97.9" rx="1.29" ry="1.15"/>
<ellipse cx="647.4" cy="100.0" rx="1.29" ry="1.15"/>
<ellipse cx="647.4" cy="102.1" rx="1.29" ry="1.15"/>
<ellipse cx="647.4" cy="104.2" rx="1.29" ry="1.15"/>
<ellipse cx="647.4" cy="106.3" rx="1.29" ry="1.15"/>
<ellipse cx="647.4" cy="108.4" rx="1.29" ry="1.15"/>
<ellipse cx="647.4" cy="114.7" rx="1.29" ry="1.15"/>
<ellipse cx="647.4" cy="117" rx="1.29" ry="1.15"/>
<ellipse cx="647.4" cy="119.7" rx="1.29" ry="1.15"/>
<ellipse cx="647.4" cy="121.7" rx="1.29" ry="1.15"/>
<ellipse cx="647.4" cy="124.5" rx="1.29" ry="1.15"/>
<ellipse cx="647.4" cy="127" rx="1.29" ry="1.15"/>
<ellipse cx="647.4" cy="129.7" rx="1.29" ry="1.15"/>
<ellipse cx="647.4" cy="131.4" rx="1.29" ry="1.15"/>
<ellipse cx="647.4" cy="133.1" rx="1.29" ry="1.15"/>
<ellipse cx="647.4" cy="134.8" rx="1.29" ry="1.15"/>
<ellipse cx="647.4" cy="136.5" rx="1.29" ry="1.15"/>
<ellipse cx="647.4" cy="138.2" rx="1.29" ry="1.15"/>
<ellipse cx="647.4" cy="139.9" rx="1.29" ry="1.15"/>
<ellipse cx="647.4" cy="141.6" rx="1.29" ry="1.15"/>
<ellipse cx="647.4" cy="143.3" rx="1.29" ry="1.15"/>
<ellipse cx="647.4" cy="145.0" rx="1.29" ry="1.15"/>
<ellipse cx="647.4" cy="149.7" rx="1.29" ry="1.15"/>
<ellipse cx="647.4" cy="151.7" rx="1.29" ry="1.15"/>
<ellipse cx="647.4" cy="153.7" rx="1.29" ry="1.15"/>
<ellipse cx="636.6" cy="127.3" rx="1.29" ry="1.15"/>
<ellipse cx="649.8" cy="127.3" rx="1.29" ry="1.15"/>
<ellipse cx="654.4" cy="125" rx="1.29" ry="1.15"/>
<ellipse cx="641.2" cy="129.7" rx="1.29" ry="1.15"/>
<ellipse cx="643.6" cy="129.7" rx="1.29" ry="1.15"/>
<ellipse cx="664.5" cy="129.7" rx="1.29" ry="1.15"/>
<ellipse cx="652.1" cy="132" rx="1.29" ry="1.15"/>
</g>
<line x1="393.5" y1="3.5" x2="393.5" y2="191.5" stroke="#444" stroke-width="1"/>
<line x1="684.5" y1="3.5" x2="684.5" y2="191.5" stroke="#555" stroke-width="1"/>
<line x1="389.2" y1="3.5" x2="685.0" y2="3.5" stroke="#666" stroke-width="1.2"/>
<line x1="389.2" y1="191.5" x2="685.0" y2="191.5" stroke="#5a5a5a" stroke-width="1.2"/>
<line x1="389.2" y1="191.5" x2="393.5" y2="191.5" stroke="#555" stroke-width="1"/>
<text transform="translate(386.3,194.6) scale(1.14,1)" font-size="10" text-anchor="end">0</text>
<line x1="389.2" y1="174.4090909090909" x2="393.5" y2="174.4090909090909" stroke="#555" stroke-width="1"/>
<text transform="translate(386.3,177.5090909090909) scale(1.14,1)" font-size="10" text-anchor="end">200</text>
<line x1="389.2" y1="157.3181818181818" x2="393.5" y2="157.3181818181818" stroke="#555" stroke-width="1"/>
<text transform="translate(386.3,160.4181818181818) scale(1.14,1)" font-size="10" text-anchor="end">400</text>
<line x1="389.2" y1="140.22727272727272" x2="393.5" y2="140.22727272727272" stroke="#555" stroke-width="1"/>
<text transform="translate(386.3,143.3272727272727) scale(1.14,1)" font-size="10" text-anchor="end">600</text>
<line x1="389.2" y1="123.13636363636364" x2="393.5" y2="123.13636363636364" stroke="#555" stroke-width="1"/>
<text transform="translate(386.3,126.23636363636363) scale(1.14,1)" font-size="10" text-anchor="end">800</text>
<line x1="389.2" y1="106.04545454545455" x2="393.5" y2="106.04545454545455" stroke="#555" stroke-width="1"/>
<text transform="translate(386.3,109.14545454545454) scale(1.14,1)" font-size="10" text-anchor="end">1000</text>
<line x1="389.2" y1="88.95454545454545" x2="393.5" y2="88.95454545454545" stroke="#555" stroke-width="1"/>
<text transform="translate(386.3,92.05454545454545) scale(1.14,1)" font-size="10" text-anchor="end">1200</text>
<line x1="389.2" y1="71.86363636363636" x2="393.5" y2="71.86363636363636" stroke="#555" stroke-width="1"/>
<text transform="translate(386.3,74.96363636363635) scale(1.14,1)" font-size="10" text-anchor="end">1400</text>
<line x1="389.2" y1="54.77272727272728" x2="393.5" y2="54.77272727272728" stroke="#555" stroke-width="1"/>
<text transform="translate(386.3,57.87272727272728) scale(1.14,1)" font-size="10" text-anchor="end">1600</text>
<line x1="389.2" y1="37.68181818181819" x2="393.5" y2="37.68181818181819" stroke="#555" stroke-width="1"/>
<text transform="translate(386.3,40.78181818181819) scale(1.14,1)" font-size="10" text-anchor="end">1800</text>
<line x1="389.2" y1="20.590909090909093" x2="393.5" y2="20.590909090909093" stroke="#555" stroke-width="1"/>
<text transform="translate(386.3,23.690909090909095) scale(1.14,1)" font-size="10" text-anchor="end">2000</text>
<line x1="389.2" y1="3.5" x2="393.5" y2="3.5" stroke="#555" stroke-width="1"/>
<text transform="translate(386.3,6.6) scale(1.14,1)" font-size="10" text-anchor="end">2200</text>
<line x1="391.2" y1="182.95454545454547" x2="393.5" y2="182.95454545454547" stroke="#666" stroke-width="1"/>
<line x1="391.2" y1="165.86363636363637" x2="393.5" y2="165.86363636363637" stroke="#666" stroke-width="1"/>
<line x1="391.2" y1="148.77272727272728" x2="393.5" y2="148.77272727272728" stroke="#666" stroke-width="1"/>
<line x1="391.2" y1="131.6818181818182" x2="393.5" y2="131.6818181818182" stroke="#666" stroke-width="1"/>
<line x1="391.2" y1="114.5909090909091" x2="393.5" y2="114.5909090909091" stroke="#666" stroke-width="1"/>
<line x1="391.2" y1="97.5" x2="393.5" y2="97.5" stroke="#666" stroke-width="1"/>
<line x1="391.2" y1="80.4090909090909" x2="393.5" y2="80.4090909090909" stroke="#666" stroke-width="1"/>
<line x1="391.2" y1="63.31818181818181" x2="393.5" y2="63.31818181818181" stroke="#666" stroke-width="1"/>
<line x1="391.2" y1="46.22727272727272" x2="393.5" y2="46.22727272727272" stroke="#666" stroke-width="1"/>
<line x1="391.2" y1="29.136363636363626" x2="393.5" y2="29.136363636363626" stroke="#666" stroke-width="1"/>
<line x1="391.2" y1="12.045454545454533" x2="393.5" y2="12.045454545454533" stroke="#666" stroke-width="1"/>
<line x1="429.6" y1="191.5" x2="429.6" y2="194.7" stroke="#666" stroke-width="1"/>
<text transform="translate(429.6,206.8) scale(1.165,1)" font-size="10" text-anchor="middle">Wheat</text>
<line x1="502.3" y1="191.5" x2="502.3" y2="194.7" stroke="#666" stroke-width="1"/>
<text transform="translate(502.3,206.8) scale(1.165,1)" font-size="10" text-anchor="middle">Barley</text>
<line x1="575" y1="191.5" x2="575" y2="194.7" stroke="#666" stroke-width="1"/>
<text transform="translate(575,206.8) scale(1.165,1)" font-size="10" text-anchor="middle">Sugar beet</text>
<line x1="647.6" y1="191.5" x2="647.6" y2="194.7" stroke="#666" stroke-width="1"/>
<text transform="translate(647.6,206.8) scale(1.165,1)" font-size="10" text-anchor="middle">Coriander</text>
<rect x="56.5" y="342.5" width="37.00" height="67.00" fill="#ff0000" stroke="#333" stroke-width="1"/>
<rect x="128.5" y="329.5" width="38.00" height="80.00" fill="#ffff00" stroke="#333" stroke-width="1"/>
<rect x="201.5" y="324.5" width="37.00" height="85.00" fill="#0000ff" stroke="#333" stroke-width="1"/>
<rect x="274.5" y="339.5" width="37.00" height="70.00" fill="#00ff00" stroke="#333" stroke-width="1"/>
<line x1="75" y1="288.6" x2="75" y2="390" stroke="#333" stroke-width="1"/>
<line x1="147.6" y1="288.4" x2="147.6" y2="360.6" stroke="#333" stroke-width="1"/>
<line x1="220.2" y1="288.4" x2="220.2" y2="365.7" stroke="#333" stroke-width="1"/>
<line x1="292.5" y1="288.2" x2="292.5" y2="375.1" stroke="#333" stroke-width="1"/>
<line x1="56.5" y1="346.5" x2="93.5" y2="346.5" stroke="#000" stroke-opacity="0.7" stroke-width="1"/>
<line x1="201.5" y1="322.5" x2="238.5" y2="322.5" stroke="#000" stroke-opacity="0.7" stroke-width="1"/>
<line x1="274.5" y1="349.5" x2="311.5" y2="349.5" stroke="#000" stroke-opacity="0.7" stroke-width="1"/>
<line x1="65.4" y1="288.5" x2="84.6" y2="288.5" stroke="#3a3a3a" stroke-width="1"/>
<line x1="65.4" y1="390.5" x2="84.6" y2="390.5" stroke="#3a3a3a" stroke-width="1"/>
<line x1="138.1" y1="288.5" x2="157.1" y2="288.5" stroke="#3a3a3a" stroke-width="1"/>
<line x1="138.1" y1="360.5" x2="157.1" y2="360.5" stroke="#3a3a3a" stroke-width="1"/>
<line x1="210.5" y1="288.5" x2="229.89999999999998" y2="288.5" stroke="#3a3a3a" stroke-width="1"/>
<line x1="210.5" y1="365.5" x2="229.89999999999998" y2="365.5" stroke="#3a3a3a" stroke-width="1"/>
<line x1="283.1" y1="288.5" x2="301.9" y2="288.5" stroke="#3a3a3a" stroke-width="1"/>
<line x1="283.1" y1="375.5" x2="301.9" y2="375.5" stroke="#3a3a3a" stroke-width="1"/>
<path d="M75.00,268.00 C75.10,270.00 75.33,276.33 75.60,280.00 C75.87,283.67 76.15,286.67 76.60,290.00 C77.05,293.33 77.20,296.67 78.30,300.00 C79.40,303.33 81.68,306.42 83.20,310.00 C84.72,313.58 86.43,317.67 87.40,321.50 C88.37,325.33 88.65,329.58 89.00,333.00 C89.35,336.42 88.98,338.72 89.50,342.00 C90.02,345.28 91.48,349.62 92.10,352.70 C92.72,355.78 93.52,358.28 93.20,360.50 C92.88,362.72 92.05,363.78 90.20,366.00 C88.35,368.22 84.22,371.22 82.10,373.80 C79.98,376.38 78.57,378.73 77.50,381.50 C76.43,384.27 76.05,387.38 75.70,390.40 C75.35,393.42 75.45,398.07 75.40,399.60" fill="none" stroke="#3030ff" stroke-width="1"/>
<path d="M147.20,266.40 C147.45,268.70 147.97,276.45 148.70,280.20 C149.43,283.95 150.40,285.52 151.60,288.90 C152.80,292.28 154.22,296.88 155.90,300.50 C157.58,304.12 160.10,307.23 161.70,310.60 C163.30,313.97 165.02,317.57 165.50,320.70 C165.98,323.83 165.08,326.27 164.60,329.40 C164.12,332.53 163.08,336.60 162.60,339.50 C162.12,342.40 162.57,344.13 161.70,346.80 C160.83,349.47 159.08,352.62 157.40,355.50 C155.72,358.38 153.05,360.97 151.60,364.10 C150.15,367.23 149.43,370.68 148.70,374.30 C147.97,377.92 147.45,383.88 147.20,385.80" fill="none" stroke="#a020b0" stroke-width="1"/>
<path d="M220.10,267.80 C220.22,269.50 220.40,274.97 220.80,278.00 C221.20,281.03 221.80,283.83 222.50,286.00 C223.20,288.17 223.58,288.67 225.00,291.00 C226.42,293.33 229.08,297.50 231.00,300.00 C232.92,302.50 235.27,304.17 236.50,306.00 C237.73,307.83 238.10,309.00 238.40,311.00 C238.70,313.00 238.53,315.00 238.30,318.00 C238.07,321.00 237.77,325.33 237.00,329.00 C236.23,332.67 234.97,336.95 233.70,340.00 C232.43,343.05 230.73,344.25 229.40,347.30 C228.07,350.35 226.72,355.25 225.70,358.30 C224.68,361.35 224.10,362.75 223.30,365.60 C222.50,368.45 221.42,372.05 220.90,375.40 C220.38,378.75 220.32,383.98 220.20,385.70" fill="none" stroke="#8a2be2" stroke-width="1"/>
<path d="M292.30,234.80 C292.32,237.33 292.25,244.97 292.40,250.00 C292.55,255.03 292.85,260.00 293.20,265.00 C293.55,270.00 293.87,275.50 294.50,280.00 C295.13,284.50 295.83,288.33 297.00,292.00 C298.17,295.67 300.17,298.67 301.50,302.00 C302.83,305.33 304.25,308.67 305.00,312.00 C305.75,315.33 305.75,318.67 306.00,322.00 C306.25,325.33 306.00,328.17 306.50,332.00 C307.00,335.83 308.25,340.83 309.00,345.00 C309.75,349.17 311.00,353.33 311.00,357.00 C311.00,360.67 310.33,363.50 309.00,367.00 C307.67,370.50 305.17,374.33 303.00,378.00 C300.83,381.67 297.75,385.33 296.00,389.00 C294.25,392.67 293.08,398.17 292.50,400.00" fill="none" stroke="#40ecf4" stroke-width="1"/>
<g fill="#000">
<ellipse cx="75" cy="288.6" rx="1.29" ry="1.15"/>
<ellipse cx="75" cy="298" rx="1.29" ry="1.15"/>
<ellipse cx="71" cy="312.5" rx="1.29" ry="1.15"/>
<ellipse cx="75" cy="312.5" rx="1.29" ry="1.15"/>
<ellipse cx="79" cy="312.5" rx="1.29" ry="1.15"/>
<ellipse cx="67.5" cy="317.3" rx="1.29" ry="1.15"/>
<ellipse cx="82.5" cy="317.3" rx="1.29" ry="1.15"/>
<ellipse cx="71" cy="322.2" rx="1.29" ry="1.15"/>
<ellipse cx="75" cy="322.2" rx="1.29" ry="1.15"/>
<ellipse cx="79" cy="322.2" rx="1.29" ry="1.15"/>
<ellipse cx="63.6" cy="327" rx="1.29" ry="1.15"/>
<ellipse cx="86.2" cy="327" rx="1.29" ry="1.15"/>
<ellipse cx="67.4" cy="331.9" rx="1.29" ry="1.15"/>
<ellipse cx="71.1" cy="331.9" rx="1.29" ry="1.15"/>
<ellipse cx="74.9" cy="331.9" rx="1.29" ry="1.15"/>
<ellipse cx="78.6" cy="331.9" rx="1.29" ry="1.15"/>
<ellipse cx="82.3" cy="331.9" rx="1.29" ry="1.15"/>
<ellipse cx="69.2" cy="336.6" rx="1.29" ry="1.15"/>
<ellipse cx="73" cy="336.6" rx="1.29" ry="1.15"/>
<ellipse cx="76.7" cy="336.6" rx="1.29" ry="1.15"/>
<ellipse cx="80.5" cy="341.8" rx="1.29" ry="1.15"/>
<ellipse cx="71.1" cy="346.3" rx="1.29" ry="1.15"/>
<ellipse cx="74.9" cy="346.3" rx="1.29" ry="1.15"/>
<ellipse cx="82.3" cy="346.3" rx="1.29" ry="1.15"/>
<ellipse cx="63.6" cy="351.3" rx="1.29" ry="1.15"/>
<ellipse cx="67.4" cy="351.3" rx="1.29" ry="1.15"/>
<ellipse cx="78.6" cy="351.3" rx="1.29" ry="1.15"/>
<ellipse cx="86" cy="351.3" rx="1.29" ry="1.15"/>
<ellipse cx="65.5" cy="356" rx="1.29" ry="1.15"/>
<ellipse cx="76.7" cy="356" rx="1.29" ry="1.15"/>
<ellipse cx="88" cy="356" rx="1.29" ry="1.15"/>
<ellipse cx="58.1" cy="361" rx="1.29" ry="1.15"/>
<ellipse cx="61.9" cy="361" rx="1.29" ry="1.15"/>
<ellipse cx="69.2" cy="361" rx="1.29" ry="1.15"/>
<ellipse cx="73" cy="361" rx="1.29" ry="1.15"/>
<ellipse cx="80.5" cy="361" rx="1.29" ry="1.15"/>
<ellipse cx="84" cy="361" rx="1.29" ry="1.15"/>
<ellipse cx="91.6" cy="361" rx="1.29" ry="1.15"/>
<ellipse cx="65.5" cy="366" rx="1.29" ry="1.15"/>
<ellipse cx="69.2" cy="366" rx="1.29" ry="1.15"/>
<ellipse cx="76.7" cy="366" rx="1.29" ry="1.15"/>
<ellipse cx="80.5" cy="366" rx="1.29" ry="1.15"/>
<ellipse cx="84" cy="366" rx="1.29" ry="1.15"/>
<ellipse cx="73" cy="370.7" rx="1.29" ry="1.15"/>
<ellipse cx="75" cy="390" rx="1.29" ry="1.15"/>
<ellipse cx="149.9" cy="288.4" rx="1.29" ry="1.15"/>
<ellipse cx="144.9" cy="293.4" rx="1.29" ry="1.15"/>
<ellipse cx="147.5" cy="297.9" rx="1.29" ry="1.15"/>
<ellipse cx="142.9" cy="312.3" rx="1.29" ry="1.15"/>
<ellipse cx="147.5" cy="312.3" rx="1.29" ry="1.15"/>
<ellipse cx="152.3" cy="312.3" rx="1.29" ry="1.15"/>
<ellipse cx="131" cy="317.1" rx="1.29" ry="1.15"/>
<ellipse cx="135.5" cy="317.1" rx="1.29" ry="1.15"/>
<ellipse cx="140.3" cy="317.1" rx="1.29" ry="1.15"/>
<ellipse cx="149.9" cy="317.1" rx="1.29" ry="1.15"/>
<ellipse cx="154.5" cy="317.1" rx="1.29" ry="1.15"/>
<ellipse cx="144.9" cy="322.1" rx="1.29" ry="1.15"/>
<ellipse cx="158.9" cy="322.1" rx="1.29" ry="1.15"/>
<ellipse cx="163.5" cy="322.1" rx="1.29" ry="1.15"/>
<ellipse cx="152.3" cy="327" rx="1.29" ry="1.15"/>
<ellipse cx="142.9" cy="331.8" rx="1.29" ry="1.15"/>
<ellipse cx="147.5" cy="331.8" rx="1.29" ry="1.15"/>
<ellipse cx="144.9" cy="336.6" rx="1.29" ry="1.15"/>
<ellipse cx="140.3" cy="341.4" rx="1.29" ry="1.15"/>
<ellipse cx="149.9" cy="341.4" rx="1.29" ry="1.15"/>
<ellipse cx="154.5" cy="341.4" rx="1.29" ry="1.15"/>
<ellipse cx="142.9" cy="346.2" rx="1.29" ry="1.15"/>
<ellipse cx="147.5" cy="346.2" rx="1.29" ry="1.15"/>
<ellipse cx="152.3" cy="346.2" rx="1.29" ry="1.15"/>
<ellipse cx="156.9" cy="346.2" rx="1.29" ry="1.15"/>
<ellipse cx="138.3" cy="351.2" rx="1.29" ry="1.15"/>
<ellipse cx="140.3" cy="355.9" rx="1.29" ry="1.15"/>
<ellipse cx="154.5" cy="355.9" rx="1.29" ry="1.15"/>
<ellipse cx="144.9" cy="360.7" rx="1.29" ry="1.15"/>
<ellipse cx="149.9" cy="360.7" rx="1.29" ry="1.15"/>
<ellipse cx="218.1" cy="288.4" rx="1.29" ry="1.15"/>
<ellipse cx="222.1" cy="293.3" rx="1.29" ry="1.15"/>
<ellipse cx="220.1" cy="297.9" rx="1.29" ry="1.15"/>
<ellipse cx="214.5" cy="307.5" rx="1.29" ry="1.15"/>
<ellipse cx="221.8" cy="307.5" rx="1.29" ry="1.15"/>
<ellipse cx="225.4" cy="307.5" rx="1.29" ry="1.15"/>
<ellipse cx="229.1" cy="307.5" rx="1.29" ry="1.15"/>
<ellipse cx="232.9" cy="307.5" rx="1.29" ry="1.15"/>
<ellipse cx="236.7" cy="307.5" rx="1.29" ry="1.15"/>
<ellipse cx="203.4" cy="312.3" rx="1.29" ry="1.15"/>
<ellipse cx="207" cy="312.3" rx="1.29" ry="1.15"/>
<ellipse cx="210.5" cy="312.3" rx="1.29" ry="1.15"/>
<ellipse cx="218.5" cy="312.3" rx="1.29" ry="1.15"/>
<ellipse cx="216.1" cy="317.3" rx="1.29" ry="1.15"/>
<ellipse cx="220.1" cy="317.3" rx="1.29" ry="1.15"/>
<ellipse cx="224.1" cy="317.3" rx="1.29" ry="1.15"/>
<ellipse cx="227.7" cy="317.3" rx="1.29" ry="1.15"/>
<ellipse cx="212.5" cy="322.2" rx="1.29" ry="1.15"/>
<ellipse cx="216.1" cy="327" rx="1.29" ry="1.15"/>
<ellipse cx="224.1" cy="327" rx="1.29" ry="1.15"/>
<ellipse cx="212.5" cy="331.8" rx="1.29" ry="1.15"/>
<ellipse cx="220.1" cy="331.8" rx="1.29" ry="1.15"/>
<ellipse cx="227.7" cy="331.8" rx="1.29" ry="1.15"/>
<ellipse cx="210.5" cy="336.6" rx="1.29" ry="1.15"/>
<ellipse cx="214.5" cy="336.6" rx="1.29" ry="1.15"/>
<ellipse cx="218.1" cy="336.6" rx="1.29" ry="1.15"/>
<ellipse cx="222.1" cy="336.6" rx="1.29" ry="1.15"/>
<ellipse cx="226.1" cy="336.6" rx="1.29" ry="1.15"/>
<ellipse cx="229.9" cy="336.6" rx="1.29" ry="1.15"/>
<ellipse cx="220.1" cy="346.1" rx="1.29" ry="1.15"/>
<ellipse cx="216.1" cy="350.9" rx="1.29" ry="1.15"/>
<ellipse cx="224.1" cy="350.9" rx="1.29" ry="1.15"/>
<ellipse cx="218.1" cy="355.7" rx="1.29" ry="1.15"/>
<ellipse cx="222.1" cy="360.7" rx="1.29" ry="1.15"/>
<ellipse cx="220.1" cy="365.7" rx="1.29" ry="1.15"/>
<ellipse cx="292.2" cy="244.8" rx="1.29" ry="1.15"/>
<ellipse cx="290.4" cy="288.2" rx="1.29" ry="1.15"/>
<ellipse cx="294.8" cy="288.2" rx="1.29" ry="1.15"/>
<ellipse cx="287.7" cy="312.5" rx="1.29" ry="1.15"/>
<ellipse cx="292.3" cy="312.5" rx="1.29" ry="1.15"/>
<ellipse cx="297.4" cy="312.5" rx="1.29" ry="1.15"/>
<ellipse cx="276.2" cy="317.2" rx="1.29" ry="1.15"/>
<ellipse cx="280.6" cy="317.2" rx="1.29" ry="1.15"/>
<ellipse cx="289.9" cy="317.2" rx="1.29" ry="1.15"/>
<ellipse cx="294.8" cy="317.2" rx="1.29" ry="1.15"/>
<ellipse cx="299.9" cy="317.2" rx="1.29" ry="1.15"/>
<ellipse cx="304.3" cy="317.2" rx="1.29" ry="1.15"/>
<ellipse cx="285.5" cy="321.8" rx="1.29" ry="1.15"/>
<ellipse cx="309.2" cy="321.8" rx="1.29" ry="1.15"/>
<ellipse cx="289.9" cy="332" rx="1.29" ry="1.15"/>
<ellipse cx="294.8" cy="332" rx="1.29" ry="1.15"/>
<ellipse cx="292.3" cy="337.1" rx="1.29" ry="1.15"/>
<ellipse cx="280.6" cy="345.9" rx="1.29" ry="1.15"/>
<ellipse cx="285.5" cy="345.9" rx="1.29" ry="1.15"/>
<ellipse cx="299.9" cy="345.9" rx="1.29" ry="1.15"/>
<ellipse cx="276.2" cy="350.8" rx="1.29" ry="1.15"/>
<ellipse cx="289.9" cy="350.8" rx="1.29" ry="1.15"/>
<ellipse cx="294.8" cy="350.8" rx="1.29" ry="1.15"/>
<ellipse cx="304.3" cy="350.8" rx="1.29" ry="1.15"/>
<ellipse cx="309.2" cy="350.8" rx="1.29" ry="1.15"/>
<ellipse cx="289.9" cy="355.7" rx="1.29" ry="1.15"/>
<ellipse cx="294.8" cy="355.7" rx="1.29" ry="1.15"/>
<ellipse cx="299.9" cy="355.7" rx="1.29" ry="1.15"/>
<ellipse cx="304.3" cy="355.7" rx="1.29" ry="1.15"/>
<ellipse cx="280.6" cy="360.8" rx="1.29" ry="1.15"/>
<ellipse cx="285.5" cy="360.8" rx="1.29" ry="1.15"/>
<ellipse cx="280.6" cy="365.2" rx="1.29" ry="1.15"/>
<ellipse cx="304.3" cy="365.2" rx="1.29" ry="1.15"/>
<ellipse cx="285.5" cy="370.3" rx="1.29" ry="1.15"/>
<ellipse cx="289.9" cy="370.3" rx="1.29" ry="1.15"/>
<ellipse cx="294.8" cy="370.3" rx="1.29" ry="1.15"/>
<ellipse cx="299.9" cy="370.3" rx="1.29" ry="1.15"/>
<ellipse cx="287.7" cy="375.1" rx="1.29" ry="1.15"/>
<ellipse cx="292.3" cy="375.1" rx="1.29" ry="1.15"/>
<ellipse cx="297.4" cy="375.1" rx="1.29" ry="1.15"/>
</g>
<line x1="38.5" y1="215.5" x2="38.5" y2="409.5" stroke="#444" stroke-width="1"/>
<line x1="329.3" y1="215.5" x2="329.3" y2="409.5" stroke="#666" stroke-width="1"/>
<line x1="34.2" y1="215.5" x2="330.0" y2="215.5" stroke="#777" stroke-width="1.2"/>
<line x1="34.2" y1="409.5" x2="330.0" y2="409.5" stroke="#444" stroke-width="1.2"/>
<line x1="34.2" y1="409.5" x2="38.5" y2="409.5" stroke="#555" stroke-width="1"/>
<text transform="translate(31.6,412.6) scale(1.14,1)" font-size="10" text-anchor="end">0.00</text>
<line x1="34.2" y1="385.25" x2="38.5" y2="385.25" stroke="#555" stroke-width="1"/>
<text transform="translate(31.6,388.35) scale(1.14,1)" font-size="10" text-anchor="end">0.05</text>
<line x1="34.2" y1="361.0" x2="38.5" y2="361.0" stroke="#555" stroke-width="1"/>
<text transform="translate(31.6,364.1) scale(1.14,1)" font-size="10" text-anchor="end">0.10</text>
<line x1="34.2" y1="336.75" x2="38.5" y2="336.75" stroke="#555" stroke-width="1"/>
<text transform="translate(31.6,339.85) scale(1.14,1)" font-size="10" text-anchor="end">0.15</text>
<line x1="34.2" y1="312.5" x2="38.5" y2="312.5" stroke="#555" stroke-width="1"/>
<text transform="translate(31.6,315.6) scale(1.14,1)" font-size="10" text-anchor="end">0.20</text>
<line x1="34.2" y1="288.25" x2="38.5" y2="288.25" stroke="#555" stroke-width="1"/>
<text transform="translate(31.6,291.35) scale(1.14,1)" font-size="10" text-anchor="end">0.25</text>
<line x1="34.2" y1="264.0" x2="38.5" y2="264.0" stroke="#555" stroke-width="1"/>
<text transform="translate(31.6,267.1) scale(1.14,1)" font-size="10" text-anchor="end">0.30</text>
<line x1="34.2" y1="239.75" x2="38.5" y2="239.75" stroke="#555" stroke-width="1"/>
<text transform="translate(31.6,242.85) scale(1.14,1)" font-size="10" text-anchor="end">0.35</text>
<line x1="34.2" y1="215.5" x2="38.5" y2="215.5" stroke="#555" stroke-width="1"/>
<text transform="translate(31.6,218.6) scale(1.14,1)" font-size="10" text-anchor="end">0.40</text>
<line x1="36.2" y1="397.375" x2="38.5" y2="397.375" stroke="#666" stroke-width="1"/>
<line x1="36.2" y1="373.125" x2="38.5" y2="373.125" stroke="#666" stroke-width="1"/>
<line x1="36.2" y1="348.875" x2="38.5" y2="348.875" stroke="#666" stroke-width="1"/>
<line x1="36.2" y1="324.625" x2="38.5" y2="324.625" stroke="#666" stroke-width="1"/>
<line x1="36.2" y1="300.375" x2="38.5" y2="300.375" stroke="#666" stroke-width="1"/>
<line x1="36.2" y1="276.125" x2="38.5" y2="276.125" stroke="#666" stroke-width="1"/>
<line x1="36.2" y1="251.875" x2="38.5" y2="251.875" stroke="#666" stroke-width="1"/>
<line x1="36.2" y1="227.625" x2="38.5" y2="227.625" stroke="#666" stroke-width="1"/>
<line x1="75" y1="409.5" x2="75" y2="412.7" stroke="#666" stroke-width="1"/>
<text transform="translate(75,426.0) scale(1.165,1)" font-size="10" text-anchor="middle">Wheat</text>
<line x1="147.6" y1="409.5" x2="147.6" y2="412.7" stroke="#666" stroke-width="1"/>
<text transform="translate(147.6,426.0) scale(1.165,1)" font-size="10" text-anchor="middle">Barley</text>
<line x1="220.2" y1="409.5" x2="220.2" y2="412.7" stroke="#666" stroke-width="1"/>
<text transform="translate(220.2,426.0) scale(1.165,1)" font-size="10" text-anchor="middle">Sugar beet</text>
<line x1="292.5" y1="409.5" x2="292.5" y2="412.7" stroke="#666" stroke-width="1"/>
<text transform="translate(292.5,426.0) scale(1.165,1)" font-size="10" text-anchor="middle">Coriander</text>
<rect x="414.5" y="342.5" width="37.00" height="66.00" fill="#ff0000" stroke="#333" stroke-width="1"/>
<rect x="486.5" y="329.5" width="37.00" height="79.00" fill="#ffff00" stroke="#333" stroke-width="1"/>
<rect x="558.5" y="324.5" width="37.00" height="84.00" fill="#0000ff" stroke="#333" stroke-width="1"/>
<rect x="630.5" y="339.5" width="37.00" height="69.00" fill="#00ff00" stroke="#333" stroke-width="1"/>
<line x1="433.2" y1="288.4" x2="433.2" y2="389" stroke="#333" stroke-width="1"/>
<line x1="505.3" y1="288.4" x2="505.3" y2="360.5" stroke="#333" stroke-width="1"/>
<line x1="577" y1="288.4" x2="577" y2="365.2" stroke="#333" stroke-width="1"/>
<line x1="648.9" y1="288.4" x2="648.9" y2="374.7" stroke="#333" stroke-width="1"/>
<line x1="414.5" y1="345.5" x2="451.5" y2="345.5" stroke="#000" stroke-opacity="0.7" stroke-width="1"/>
<line x1="558.5" y1="322.5" x2="595.5" y2="322.5" stroke="#000" stroke-opacity="0.7" stroke-width="1"/>
<line x1="630.5" y1="348.5" x2="667.5" y2="348.5" stroke="#000" stroke-opacity="0.7" stroke-width="1"/>
<line x1="423.5" y1="288.5" x2="442.9" y2="288.5" stroke="#3a3a3a" stroke-width="1"/>
<line x1="423.5" y1="389.5" x2="442.9" y2="389.5" stroke="#3a3a3a" stroke-width="1"/>
<line x1="496.1" y1="288.5" x2="514.5" y2="288.5" stroke="#3a3a3a" stroke-width="1"/>
<line x1="496.1" y1="360.5" x2="514.5" y2="360.5" stroke="#3a3a3a" stroke-width="1"/>
<line x1="567.6" y1="288.5" x2="586.4" y2="288.5" stroke="#3a3a3a" stroke-width="1"/>
<line x1="567.6" y1="365.5" x2="586.4" y2="365.5" stroke="#3a3a3a" stroke-width="1"/>
<line x1="639.5" y1="288.5" x2="658.3" y2="288.5" stroke="#3a3a3a" stroke-width="1"/>
<line x1="639.5" y1="374.5" x2="658.3" y2="374.5" stroke="#3a3a3a" stroke-width="1"/>
<path d="M433.20,268.30 C433.27,270.25 433.33,276.05 433.60,280.00 C433.87,283.95 434.12,288.33 434.80,292.00 C435.48,295.67 436.50,298.33 437.70,302.00 C438.90,305.67 440.53,309.92 442.00,314.00 C443.47,318.08 445.42,322.50 446.50,326.50 C447.58,330.50 447.92,334.08 448.50,338.00 C449.08,341.92 449.48,346.33 450.00,350.00 C450.52,353.67 451.70,357.60 451.60,360.00 C451.50,362.40 450.42,363.12 449.40,364.40 C448.38,365.68 446.80,366.60 445.50,367.70 C444.20,368.80 442.98,369.52 441.60,371.00 C440.22,372.48 438.30,374.73 437.20,376.60 C436.10,378.47 435.52,379.97 435.00,382.20 C434.48,384.43 434.33,387.23 434.10,390.00 C433.87,392.77 433.70,395.80 433.60,398.80 C433.50,401.80 433.52,406.47 433.50,408.00" fill="none" stroke="#3030ff" stroke-width="1"/>
<path d="M505.30,266.00 C505.42,267.67 505.55,272.67 506.00,276.00 C506.45,279.33 507.08,282.67 508.00,286.00 C508.92,289.33 510.17,292.67 511.50,296.00 C512.83,299.33 514.50,302.83 516.00,306.00 C517.50,309.17 519.45,312.33 520.50,315.00 C521.55,317.67 522.08,319.83 522.30,322.00 C522.52,324.17 522.02,325.83 521.80,328.00 C521.58,330.17 521.43,332.17 521.00,335.00 C520.57,337.83 520.08,341.97 519.20,345.00 C518.32,348.03 516.97,350.45 515.70,353.20 C514.43,355.95 512.98,358.73 511.60,361.50 C510.22,364.27 508.42,367.05 507.40,369.80 C506.38,372.55 505.87,375.30 505.50,378.00 C505.13,380.70 505.25,384.67 505.20,386.00" fill="none" stroke="#a020b0" stroke-width="1"/>
<path d="M577.00,268.00 C577.10,269.17 577.38,273.00 577.60,275.00 C577.82,277.00 577.37,276.95 578.30,280.00 C579.23,283.05 581.42,289.80 583.20,293.30 C584.98,296.80 587.35,298.80 589.00,301.00 C590.65,303.20 592.03,304.47 593.10,306.50 C594.17,308.53 595.12,310.95 595.40,313.20 C595.68,315.45 595.12,317.53 594.80,320.00 C594.48,322.47 593.90,325.62 593.50,328.00 C593.10,330.38 593.30,331.57 592.40,334.30 C591.50,337.03 589.42,341.52 588.10,344.40 C586.78,347.28 585.58,348.72 584.50,351.60 C583.42,354.48 582.57,358.58 581.60,361.70 C580.63,364.82 579.42,367.43 578.70,370.30 C577.98,373.17 577.53,376.45 577.30,378.90 C577.07,381.35 577.30,383.98 577.30,385.00" fill="none" stroke="#8a2be2" stroke-width="1"/>
<path d="M649.60,235.80 C649.63,238.17 649.73,245.13 649.80,250.00 C649.87,254.87 649.87,260.00 650.00,265.00 C650.13,270.00 650.18,275.65 650.60,280.00 C651.02,284.35 651.48,287.40 652.50,291.10 C653.52,294.80 655.32,298.03 656.70,302.20 C658.08,306.37 659.88,311.47 660.80,316.10 C661.72,320.73 661.73,325.37 662.20,330.00 C662.67,334.63 662.90,339.27 663.60,343.90 C664.30,348.53 666.40,354.10 666.40,357.80 C666.40,361.50 665.22,362.87 663.60,366.10 C661.98,369.33 658.68,373.50 656.70,377.20 C654.72,380.90 652.87,384.17 651.70,388.30 C650.53,392.43 650.03,399.72 649.70,402.00" fill="none" stroke="#40ecf4" stroke-width="1"/>
<g fill="#000">
<ellipse cx="433.2" cy="288.4" rx="1.29" ry="1.15"/>
<ellipse cx="434.3" cy="297.3" rx="1.29" ry="1.15"/>
<ellipse cx="429.5" cy="312.5" rx="1.29" ry="1.15"/>
<ellipse cx="431.7" cy="312.5" rx="1.29" ry="1.15"/>
<ellipse cx="436.5" cy="312.5" rx="1.29" ry="1.15"/>
<ellipse cx="438.8" cy="317.2" rx="1.29" ry="1.15"/>
<ellipse cx="441" cy="317.2" rx="1.29" ry="1.15"/>
<ellipse cx="429.5" cy="321.6" rx="1.29" ry="1.15"/>
<ellipse cx="431.7" cy="321.6" rx="1.29" ry="1.15"/>
<ellipse cx="436.5" cy="321.6" rx="1.29" ry="1.15"/>
<ellipse cx="420" cy="326.7" rx="1.29" ry="1.15"/>
<ellipse cx="445.8" cy="326.7" rx="1.29" ry="1.15"/>
<ellipse cx="422.8" cy="331.5" rx="1.29" ry="1.15"/>
<ellipse cx="425" cy="331.5" rx="1.29" ry="1.15"/>
<ellipse cx="427.3" cy="331.5" rx="1.29" ry="1.15"/>
<ellipse cx="433.9" cy="331.5" rx="1.29" ry="1.15"/>
<ellipse cx="443.6" cy="331.5" rx="1.29" ry="1.15"/>
<ellipse cx="421.5" cy="336.4" rx="1.29" ry="1.15"/>
<ellipse cx="428.1" cy="336.4" rx="1.29" ry="1.15"/>
<ellipse cx="433.9" cy="336.4" rx="1.29" ry="1.15"/>
<ellipse cx="437.7" cy="340.8" rx="1.29" ry="1.15"/>
<ellipse cx="424.4" cy="345.9" rx="1.29" ry="1.15"/>
<ellipse cx="431" cy="345.9" rx="1.29" ry="1.15"/>
<ellipse cx="435.4" cy="345.9" rx="1.29" ry="1.15"/>
<ellipse cx="425.9" cy="350.8" rx="1.29" ry="1.15"/>
<ellipse cx="439.9" cy="350.8" rx="1.29" ry="1.15"/>
<ellipse cx="442.1" cy="350.8" rx="1.29" ry="1.15"/>
<ellipse cx="444.3" cy="350.8" rx="1.29" ry="1.15"/>
<ellipse cx="434.3" cy="355.7" rx="1.29" ry="1.15"/>
<ellipse cx="443.2" cy="355.7" rx="1.29" ry="1.15"/>
<ellipse cx="445.4" cy="355.7" rx="1.29" ry="1.15"/>
<ellipse cx="416.2" cy="360.1" rx="1.29" ry="1.15"/>
<ellipse cx="418.4" cy="360.1" rx="1.29" ry="1.15"/>
<ellipse cx="427.3" cy="360.1" rx="1.29" ry="1.15"/>
<ellipse cx="436.1" cy="360.1" rx="1.29" ry="1.15"/>
<ellipse cx="438.3" cy="360.1" rx="1.29" ry="1.15"/>
<ellipse cx="440.5" cy="360.1" rx="1.29" ry="1.15"/>
<ellipse cx="447.6" cy="360.1" rx="1.29" ry="1.15"/>
<ellipse cx="420" cy="365.2" rx="1.29" ry="1.15"/>
<ellipse cx="422.2" cy="365.2" rx="1.29" ry="1.15"/>
<ellipse cx="424.4" cy="365.2" rx="1.29" ry="1.15"/>
<ellipse cx="431.7" cy="365.2" rx="1.29" ry="1.15"/>
<ellipse cx="449.8" cy="365.2" rx="1.29" ry="1.15"/>
<ellipse cx="429.9" cy="370" rx="1.29" ry="1.15"/>
<ellipse cx="433.2" cy="389" rx="1.29" ry="1.15"/>
<ellipse cx="506.5" cy="288.4" rx="1.29" ry="1.15"/>
<ellipse cx="503.5" cy="293.3" rx="1.29" ry="1.15"/>
<ellipse cx="503.5" cy="297.9" rx="1.29" ry="1.15"/>
<ellipse cx="499.9" cy="312.3" rx="1.29" ry="1.15"/>
<ellipse cx="506.5" cy="312.3" rx="1.29" ry="1.15"/>
<ellipse cx="509.9" cy="312.3" rx="1.29" ry="1.15"/>
<ellipse cx="488" cy="317.1" rx="1.29" ry="1.15"/>
<ellipse cx="491.6" cy="317.1" rx="1.29" ry="1.15"/>
<ellipse cx="498.3" cy="317.1" rx="1.29" ry="1.15"/>
<ellipse cx="504.9" cy="317.1" rx="1.29" ry="1.15"/>
<ellipse cx="508.9" cy="317.1" rx="1.29" ry="1.15"/>
<ellipse cx="501.5" cy="322" rx="1.29" ry="1.15"/>
<ellipse cx="514.9" cy="322" rx="1.29" ry="1.15"/>
<ellipse cx="518.2" cy="322" rx="1.29" ry="1.15"/>
<ellipse cx="521.8" cy="327" rx="1.29" ry="1.15"/>
<ellipse cx="494.9" cy="331.8" rx="1.29" ry="1.15"/>
<ellipse cx="511.9" cy="331.8" rx="1.29" ry="1.15"/>
<ellipse cx="501.5" cy="336.6" rx="1.29" ry="1.15"/>
<ellipse cx="504.9" cy="341.4" rx="1.29" ry="1.15"/>
<ellipse cx="514.9" cy="341.4" rx="1.29" ry="1.15"/>
<ellipse cx="518.2" cy="341.4" rx="1.29" ry="1.15"/>
<ellipse cx="491.6" cy="346.1" rx="1.29" ry="1.15"/>
<ellipse cx="498.3" cy="346.1" rx="1.29" ry="1.15"/>
<ellipse cx="508.3" cy="346.1" rx="1.29" ry="1.15"/>
<ellipse cx="511.9" cy="346.1" rx="1.29" ry="1.15"/>
<ellipse cx="494.9" cy="350.9" rx="1.29" ry="1.15"/>
<ellipse cx="499.9" cy="355.7" rx="1.29" ry="1.15"/>
<ellipse cx="509.9" cy="355.7" rx="1.29" ry="1.15"/>
<ellipse cx="503.5" cy="360.5" rx="1.29" ry="1.15"/>
<ellipse cx="506.5" cy="360.5" rx="1.29" ry="1.15"/>
<ellipse cx="575.4" cy="288.4" rx="1.29" ry="1.15"/>
<ellipse cx="578.3" cy="293.3" rx="1.29" ry="1.15"/>
<ellipse cx="560" cy="297.7" rx="1.29" ry="1.15"/>
<ellipse cx="570.2" cy="307.8" rx="1.29" ry="1.15"/>
<ellipse cx="577.2" cy="307.8" rx="1.29" ry="1.15"/>
<ellipse cx="580.4" cy="307.8" rx="1.29" ry="1.15"/>
<ellipse cx="583.9" cy="307.8" rx="1.29" ry="1.15"/>
<ellipse cx="587.1" cy="307.8" rx="1.29" ry="1.15"/>
<ellipse cx="590.4" cy="307.8" rx="1.29" ry="1.15"/>
<ellipse cx="563.8" cy="312.8" rx="1.29" ry="1.15"/>
<ellipse cx="566.8" cy="312.8" rx="1.29" ry="1.15"/>
<ellipse cx="573.5" cy="312.8" rx="1.29" ry="1.15"/>
<ellipse cx="593.9" cy="312.8" rx="1.29" ry="1.15"/>
<ellipse cx="561.8" cy="317.5" rx="1.29" ry="1.15"/>
<ellipse cx="565" cy="317.5" rx="1.29" ry="1.15"/>
<ellipse cx="568.2" cy="317.5" rx="1.29" ry="1.15"/>
<ellipse cx="588.9" cy="317.5" rx="1.29" ry="1.15"/>
<ellipse cx="592.1" cy="322" rx="1.29" ry="1.15"/>
<ellipse cx="575.5" cy="326.9" rx="1.29" ry="1.15"/>
<ellipse cx="581.9" cy="326.9" rx="1.29" ry="1.15"/>
<ellipse cx="572" cy="331.9" rx="1.29" ry="1.15"/>
<ellipse cx="578.7" cy="331.9" rx="1.29" ry="1.15"/>
<ellipse cx="585.1" cy="331.9" rx="1.29" ry="1.15"/>
<ellipse cx="563.8" cy="336.7" rx="1.29" ry="1.15"/>
<ellipse cx="567" cy="336.7" rx="1.29" ry="1.15"/>
<ellipse cx="570.2" cy="336.7" rx="1.29" ry="1.15"/>
<ellipse cx="573.5" cy="336.7" rx="1.29" ry="1.15"/>
<ellipse cx="576.8" cy="336.7" rx="1.29" ry="1.15"/>
<ellipse cx="580.4" cy="336.7" rx="1.29" ry="1.15"/>
<ellipse cx="583.6" cy="345.9" rx="1.29" ry="1.15"/>
<ellipse cx="587.2" cy="350.8" rx="1.29" ry="1.15"/>
<ellipse cx="590.3" cy="350.8" rx="1.29" ry="1.15"/>
<ellipse cx="579.9" cy="355.7" rx="1.29" ry="1.15"/>
<ellipse cx="573.2" cy="360.1" rx="1.29" ry="1.15"/>
<ellipse cx="577" cy="365.2" rx="1.29" ry="1.15"/>
<ellipse cx="648.2" cy="245" rx="1.29" ry="1.15"/>
<ellipse cx="647.1" cy="288.4" rx="1.29" ry="1.15"/>
<ellipse cx="650.4" cy="288.4" rx="1.29" ry="1.15"/>
<ellipse cx="646" cy="312.5" rx="1.29" ry="1.15"/>
<ellipse cx="649.3" cy="312.5" rx="1.29" ry="1.15"/>
<ellipse cx="652" cy="312.5" rx="1.29" ry="1.15"/>
<ellipse cx="635" cy="317.2" rx="1.29" ry="1.15"/>
<ellipse cx="637.8" cy="317.2" rx="1.29" ry="1.15"/>
<ellipse cx="644.5" cy="317.2" rx="1.29" ry="1.15"/>
<ellipse cx="647.1" cy="317.2" rx="1.29" ry="1.15"/>
<ellipse cx="649.8" cy="317.2" rx="1.29" ry="1.15"/>
<ellipse cx="652.7" cy="317.2" rx="1.29" ry="1.15"/>
<ellipse cx="659.3" cy="317.2" rx="1.29" ry="1.15"/>
<ellipse cx="640.9" cy="321.6" rx="1.29" ry="1.15"/>
<ellipse cx="663.1" cy="321.6" rx="1.29" ry="1.15"/>
<ellipse cx="653.3" cy="331.5" rx="1.29" ry="1.15"/>
<ellipse cx="656.4" cy="331.5" rx="1.29" ry="1.15"/>
<ellipse cx="648.9" cy="336.4" rx="1.29" ry="1.15"/>
<ellipse cx="642.7" cy="345.9" rx="1.29" ry="1.15"/>
<ellipse cx="654.9" cy="345.9" rx="1.29" ry="1.15"/>
<ellipse cx="657.7" cy="345.9" rx="1.29" ry="1.15"/>
<ellipse cx="636.1" cy="350.8" rx="1.29" ry="1.15"/>
<ellipse cx="638.7" cy="350.8" rx="1.29" ry="1.15"/>
<ellipse cx="646" cy="350.8" rx="1.29" ry="1.15"/>
<ellipse cx="652" cy="350.8" rx="1.29" ry="1.15"/>
<ellipse cx="660.8" cy="350.8" rx="1.29" ry="1.15"/>
<ellipse cx="637.8" cy="355.7" rx="1.29" ry="1.15"/>
<ellipse cx="649.8" cy="355.7" rx="1.29" ry="1.15"/>
<ellipse cx="652.7" cy="355.7" rx="1.29" ry="1.15"/>
<ellipse cx="656" cy="355.7" rx="1.29" ry="1.15"/>
<ellipse cx="659.3" cy="360.1" rx="1.29" ry="1.15"/>
<ellipse cx="665.3" cy="360.1" rx="1.29" ry="1.15"/>
<ellipse cx="631.6" cy="365.2" rx="1.29" ry="1.15"/>
<ellipse cx="635" cy="365.2" rx="1.29" ry="1.15"/>
<ellipse cx="640.9" cy="370" rx="1.29" ry="1.15"/>
<ellipse cx="644.5" cy="370" rx="1.29" ry="1.15"/>
<ellipse cx="647.1" cy="370" rx="1.29" ry="1.15"/>
<ellipse cx="662.2" cy="370" rx="1.29" ry="1.15"/>
<ellipse cx="646" cy="374.7" rx="1.29" ry="1.15"/>
<ellipse cx="648.9" cy="374.7" rx="1.29" ry="1.15"/>
<ellipse cx="652" cy="374.7" rx="1.29" ry="1.15"/>
</g>
<line x1="397.5" y1="216.5" x2="397.5" y2="408.5" stroke="#555" stroke-width="1"/>
<line x1="684.5" y1="216.5" x2="684.5" y2="408.5" stroke="#555" stroke-width="1"/>
<line x1="393.2" y1="216.5" x2="685.0" y2="216.5" stroke="#6a6a6a" stroke-width="1.2"/>
<line x1="393.2" y1="408.5" x2="685.0" y2="408.5" stroke="#707070" stroke-width="1.4"/>
<line x1="393.2" y1="408.5" x2="397.5" y2="408.5" stroke="#555" stroke-width="1"/>
<text transform="translate(390.2,411.6) scale(1.18,1)" font-size="10" text-anchor="end">0.000</text>
<line x1="393.2" y1="360.5" x2="397.5" y2="360.5" stroke="#555" stroke-width="1"/>
<text transform="translate(390.2,363.6) scale(1.18,1)" font-size="10" text-anchor="end">0.005</text>
<line x1="393.2" y1="312.5" x2="397.5" y2="312.5" stroke="#555" stroke-width="1"/>
<text transform="translate(390.2,315.6) scale(1.18,1)" font-size="10" text-anchor="end">0.010</text>
<line x1="393.2" y1="264.5" x2="397.5" y2="264.5" stroke="#555" stroke-width="1"/>
<text transform="translate(390.2,267.6) scale(1.18,1)" font-size="10" text-anchor="end">0.015</text>
<line x1="393.2" y1="216.5" x2="397.5" y2="216.5" stroke="#555" stroke-width="1"/>
<text transform="translate(390.2,219.6) scale(1.18,1)" font-size="10" text-anchor="end">0.020</text>
<line x1="395.2" y1="384.5" x2="397.5" y2="384.5" stroke="#666" stroke-width="1"/>
<line x1="395.2" y1="336.5" x2="397.5" y2="336.5" stroke="#666" stroke-width="1"/>
<line x1="395.2" y1="288.5" x2="397.5" y2="288.5" stroke="#666" stroke-width="1"/>
<line x1="395.2" y1="240.5" x2="397.5" y2="240.5" stroke="#666" stroke-width="1"/>
<line x1="433.2" y1="408.5" x2="433.2" y2="411.7" stroke="#666" stroke-width="1"/>
<text transform="translate(433.2,425.8) scale(1.165,1)" font-size="10" text-anchor="middle">Wheat</text>
<line x1="505.3" y1="408.5" x2="505.3" y2="411.7" stroke="#666" stroke-width="1"/>
<text transform="translate(505.3,425.8) scale(1.165,1)" font-size="10" text-anchor="middle">Barley</text>
<line x1="577" y1="408.5" x2="577" y2="411.7" stroke="#666" stroke-width="1"/>
<text transform="translate(577,425.8) scale(1.165,1)" font-size="10" text-anchor="middle">Sugar beet</text>
<line x1="648.9" y1="408.5" x2="648.9" y2="411.7" stroke="#666" stroke-width="1"/>
<text transform="translate(648.9,425.8) scale(1.165,1)" font-size="10" text-anchor="middle">Coriander</text>
<text transform="translate(13.6,96.8) scale(1.25,1) rotate(-90)" font-size="9.8" text-anchor="middle">pH</text>
<text transform="translate(359.3,97) scale(1.25,1) rotate(-90)" font-size="9.5" text-anchor="middle">EC (µS cm<tspan dy="-4.2" font-size="8.2">-1</tspan><tspan dy="4.2">)</tspan></text>
<text transform="translate(8.6,312.2) scale(1.25,1) rotate(-90)" font-size="9.6" text-anchor="middle">OM (%)</text>
<text transform="translate(361.6,312.6) scale(1.25,1) rotate(-90)" font-size="9.6" text-anchor="middle">NC (mg l<tspan dy="-4.2" font-size="8.2">-1</tspan><tspan dy="4.2">)</tspan></text>
<rect x="61.8" y="434.5" width="36.4" height="15.6" fill="#ff0000" stroke="#555" stroke-width="1.2"/>
<text transform="translate(104,447.6) scale(1.11,1)" font-size="15" text-anchor="start">Mean</text>
<line x1="162.9" y1="434.5" x2="162.9" y2="450" stroke="#606060" stroke-width="1.8"/>
<line x1="157" y1="435" x2="169" y2="435" stroke="#5a5a5a" stroke-width="1.7"/>
<line x1="157" y1="450.2" x2="169" y2="450.2" stroke="#555" stroke-width="1.8"/>
<text transform="translate(186.6,447.6) scale(1.11,1)" font-size="15" text-anchor="start">Mean ± 1.96 SE</text>
<line x1="306.3" y1="442.8" x2="328.7" y2="442.8" stroke="#222" stroke-width="1"/>
<text transform="translate(341,447.6) scale(1.11,1)" font-size="15" text-anchor="start">Median Line</text>
<rect x="448.6" y="440.6" width="3.6" height="3.5" fill="#fff" stroke="#8a8a8a" stroke-width="0.9"/>
<text transform="translate(475,447.6) scale(1.11,1)" font-size="15" text-anchor="start">Mean</text>
<ellipse cx="533.6" cy="442.4" rx="2.4" ry="2.3" fill="#000"/>
<text transform="translate(556.9,447.6) scale(1.11,1)" font-size="15" text-anchor="start">Outliers</text>
<rect x="175.9" y="424.3" width="5" height="3" fill="#a8f0ff" opacity="0.8"/>
<rect x="388.5" y="423.7" width="5" height="3" fill="#a8f0ff" opacity="0.8"/>
<rect x="600.5" y="423.5" width="5" height="3" fill="#a8f0ff" opacity="0.8"/>
</svg></body></html>
